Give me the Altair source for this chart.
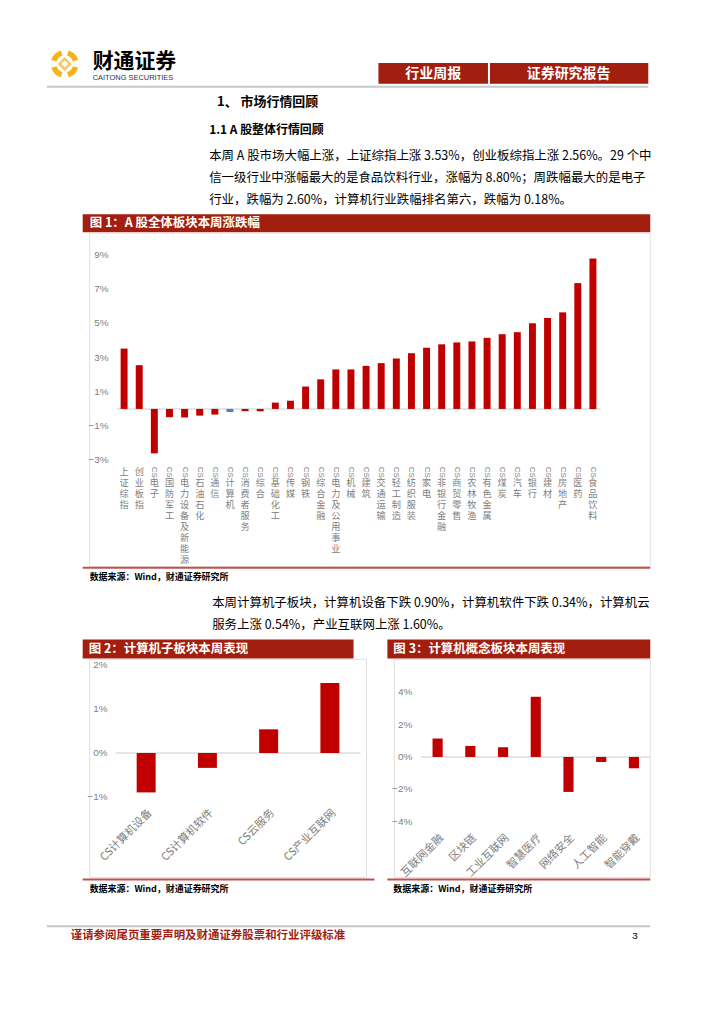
import altair as alt
import pandas as pd
import math

# ---------------- data ----------------
fig1_names = ["上证综指", "创业板指", "CS电子", "CS国防军工", "CS电力设备及新能源", "CS石油石化",
              "CS通信", "CS计算机", "CS消费者服务", "CS综合", "CS基础化工", "CS传媒", "CS钢铁",
              "CS综合金融", "CS电力及公用事业", "CS机械", "CS建筑", "CS交通运输", "CS轻工制造",
              "CS纺织服装", "CS家电", "CS非银行金融", "CS商贸零售", "CS农林牧渔", "CS有色金属",
              "CS煤炭", "CS汽车", "CS银行", "CS建材", "CS房地产", "CS医药", "CS食品饮料"]
fig1_values = [3.53, 2.56, -2.60, -0.48, -0.50, -0.39, -0.33, -0.18, -0.13, -0.14, 0.37, 0.48, 1.31,
               1.73, 2.31, 2.31, 2.52, 2.68, 2.95, 3.26, 3.58, 3.78, 3.89, 3.95, 4.16, 4.37, 4.49,
               5.01, 5.32, 5.65, 7.36, 8.80]
fig1_ticks = [-3, -1, 1, 3, 5, 7, 9]

fig2_names = ["CS计算机设备", "CS计算机软件", "CS云服务", "CS产业互联网"]
fig2_values = [-0.90, -0.34, 0.54, 1.60]
fig2_ticks = [-1, 0, 1, 2]

fig3_names = ["互联网金融", "区块链", "工业互联网", "智慧医疗", "网络安全", "人工智能", "智能穿戴"]
fig3_values = [1.14, 0.68, 0.60, 3.72, -2.16, -0.31, -0.70]
fig3_ticks = [-4, -2, 0, 2, 4]

zero_line = [0]

# ---------------- texts ----------------
logo_cn = "财通证券"
logo_en = "CAITONG SECURITIES"
tag1 = "行业周报"
tag2 = "证券研究报告"
h1 = "1、 市场行情回顾"
h2 = "1.1  A 股整体行情回顾"
para1 = ["本周 A 股市场大幅上涨，上证综指上涨 3.53%，创业板综指上涨 2.56%。29 个中",
         "信一级行业中涨幅最大的是食品饮料行业，涨幅为 8.80%；周跌幅最大的是电子",
         "行业，跌幅为 2.60%，计算机行业跌幅排名第六，跌幅为 0.18%。"]
para2 = ["本周计算机子板块，计算机设备下跌 0.90%，计算机软件下跌 0.34%，计算机云",
         "服务上涨 0.54%，产业互联网上涨 1.60%。"]
fig1_title = "图 1：A 股全体板块本周涨跌幅"
fig2_title = "图 2：计算机子板块本周表现"
fig3_title = "图 3：计算机概念板块本周表现"
source = "数据来源：Wind，财通证券研究所"
footer = "谨请参阅尾页重要声明及财通证券股票和行业评级标准"
page_no = "3"

# ---------------- style ----------------
CJK = "Noto Sans CJK SC"
NUM = "Liberation Sans"
BAR_RED = "#C00000"
BAR_BLUE = "#4F81BD"
HEAD_RED = "#A21F0F"
LINE_RED = "#C0504D"
GRAY = "#808080"
ORANGE = "#F5B21B"
OX, OY = 8, 8

one = pd.DataFrame({"k": [0]})


def T(s, x, y, size=12, color="#000000", weight="normal", align="left", font=CJK):
    return alt.Chart(pd.DataFrame({"t": [s]})).mark_text(
        fontSize=size, color=color, fontWeight=weight, align=align, baseline="middle", font=font
    ).encode(x=alt.value(x - OX), y=alt.value(y - OY), text="t:N")


def RECT(x1, y1, x2, y2, fill):
    return alt.Chart(one).mark_rect(color=fill).encode(
        x=alt.value(x1 - OX), x2=alt.value(x2 - OX), y=alt.value(y1 - OY), y2=alt.value(y2 - OY))


def FRAME(x1, y1, x2, y2, stroke):
    return alt.Chart(one).mark_rect(fillOpacity=0, stroke=stroke, strokeWidth=1).encode(
        x=alt.value(x1 - OX), x2=alt.value(x2 - OX), y=alt.value(y1 - OY), y2=alt.value(y2 - OY))


def LINE(x1, y1, x2, y2, color, w):
    return alt.Chart(one).mark_rule(color=color, strokeWidth=w).encode(
        x=alt.value(x1 - OX), x2=alt.value(x2 - OX), y=alt.value(y1 - OY), y2=alt.value(y2 - OY))


def ARC(cx, cy, r1, r2, t1, t2, color):
    return alt.Chart(one).mark_arc(color=color).encode(
        x=alt.value(cx - OX), y=alt.value(cy - OY), radius=alt.value(r1), radius2=alt.value(r2),
        theta=alt.value(t1), theta2=alt.value(t2))


def spacer(w, h):
    pt = alt.Chart(one).mark_point(opacity=0).encode(x=alt.value(0), y=alt.value(0))
    return alt.layer(pt).properties(width=w, height=h)


# ---------------- decoration panel (page coordinates) ----------------
layers = []
# logo
for k in range(4):
    a = k * math.pi / 2
    layers.append(ARC(62, 62, 14, 8.5, a + 0.28, a + math.pi / 2 - 0.28, ORANGE))
layers.append(alt.Chart(one).mark_point(shape="diamond", filled=False, color=ORANGE, strokeWidth=2.5,
                                        size=110).encode(x=alt.value(62 - OX), y=alt.value(62 - OY)))
layers.append(T(logo_cn, 90, 60, size=21, weight="bold"))
layers.append(T(logo_en, 90, 76, size=7.5, color="#333333", font=NUM))
# header tags
layers.append(RECT(377, 61, 487, 82, HEAD_RED))
layers.append(RECT(489, 61, 648, 82, HEAD_RED))
layers.append(T(tag1, 432, 72, size=14, color="white", weight="bold", align="center"))
layers.append(T(tag2, 568, 72, size=14, color="white", weight="bold", align="center"))
layers.append(LINE(44, 85, 648, 85, "#c8c8c8", 2))
# headings & paragraph 1
layers.append(T(h1, 215, 100, size=13, weight="bold"))
layers.append(T(h2, 207, 128, size=12, weight="bold"))
for i, s in enumerate(para1):
    layers.append(T(s, 207, 155 + 22 * i, size=12.5))
# figure 1 title and frame
layers.append(RECT(80, 213, 650, 231, HEAD_RED))
layers.append(T(fig1_title, 87, 222, size=12.5, color="white", weight="bold"))
layers.append(FRAME(87, 232, 650, 567, "#e6dede"))
layers.append(LINE(80, 568, 650, 568, LINE_RED, 2))
layers.append(T(source, 87, 577, size=9, weight="bold"))
# paragraph 2
for i, s in enumerate(para2):
    layers.append(T(s, 210, 603 + 22 * i, size=12.5))
# figure 2 / 3 titles and frames
layers.append(RECT(80, 640, 352, 659, HEAD_RED))
layers.append(RECT(386, 640, 650, 659, HEAD_RED))
layers.append(T(fig2_title, 86, 649.5, size=12.5, color="white", weight="bold"))
layers.append(T(fig3_title, 392, 649.5, size=12.5, color="white", weight="bold"))
layers.append(FRAME(87, 660, 365, 879, "#e6dede"))
layers.append(FRAME(393, 660, 650, 879, "#e6dede"))
layers.append(LINE(80, 881, 373, 881, LINE_RED, 2))
layers.append(LINE(386, 881, 650, 881, LINE_RED, 2))
layers.append(T(source, 87, 891, size=9, weight="bold"))
layers.append(T(source, 392, 891, size=9, weight="bold"))
# footer
layers.append(LINE(44, 928, 650, 928, "#c8c8c8", 2))
layers.append(T(footer, 68, 938, size=11.5, color=HEAD_RED, weight="bold"))
layers.append(T(page_no, 632, 938, size=10, font=NUM))

decor = alt.layer(*layers).properties(width=708, height=246)


def ylabels(ticks, yscale, dx):
    """y tick labels drawn through the chart's own y scale"""
    return alt.Chart(pd.DataFrame({"v": ticks})).transform_calculate(
        lab="format(datum.v, 'd') + '%'"
    ).mark_text(align="right", baseline="middle", fontSize=10, font=NUM, color=GRAY).encode(
        y=alt.Y("v:Q", scale=yscale, axis=None, title=None), x=alt.value(-dx), text="lab:N")


def zero_rule(yscale):
    return alt.Chart(pd.DataFrame({"v": zero_line})).mark_rule(
        color="#dcdcdc", strokeWidth=1.5).encode(y=alt.Y("v:Q", scale=yscale, axis=None, title=None))


# ---------------- figure 1 ----------------
df1 = pd.DataFrame({"name": fig1_names, "v": fig1_values})

# vertical category labels: one row per character slot ("CS" prefix shown turned sideways)
rows = []
for n in fig1_names:
    if n.startswith("CS"):
        rows.append({"name": n, "slot": 0, "ch": "CS", "kind": "cs"})
        body, start = n[2:], 1
    else:
        body, start = n, 0
    for i, c in enumerate(body):
        rows.append({"name": n, "slot": start + i, "ch": c, "kind": "char"})
lab1 = pd.DataFrame(rows)

ys1 = alt.Scale(domain=[-3, 9], nice=False)
x1 = alt.X("name:N", sort=fig1_names, axis=None,
           scale=alt.Scale(paddingInner=0.54, paddingOuter=0.27))
y1 = alt.Y("v:Q", title=None, scale=ys1, axis=None)
slot_y = alt.Y("slot:Q", axis=None, title=None, scale=alt.Scale(domain=[0, 8], range=[218, 306]))

bars1 = alt.Chart(df1).mark_bar().encode(
    x=x1, y=y1,
    color=alt.condition("datum.name == 'CS计算机'", alt.value(BAR_BLUE), alt.value(BAR_RED)))
chars1 = alt.Chart(lab1).transform_filter("datum.kind == 'char'").mark_text(
    baseline="middle", align="center", fontSize=9.2, color=GRAY, font=CJK
).encode(x=x1, y=slot_y, text="ch:N")
cs1 = alt.Chart(lab1).transform_filter("datum.kind == 'cs'").mark_text(
    baseline="middle", align="center", fontSize=8, angle=90, color=GRAY, font=NUM
).encode(x=x1, y=slot_y, text="ch:N")

plot1 = alt.layer(zero_rule(ys1), bars1, ylabels(fig1_ticks, ys1, 8))
labels1 = alt.layer(chars1, cs1)
fig1 = alt.layer(plot1, labels1).resolve_scale(y="independent").properties(width=486, height=206)

# ---------------- figure 2 ----------------
df2 = pd.DataFrame({"name": fig2_names, "v": fig2_values})
ys2 = alt.Scale(domain=[-1, 2], nice=False)
x2 = alt.X("name:N", sort=fig2_names, title=None,
           scale=alt.Scale(paddingInner=0.69, paddingOuter=0.345),
           axis=alt.Axis(labelAngle=-45, labelColor=GRAY, labelFont=CJK, labelFontSize=11,
                         domain=False, ticks=False, labelPadding=10))
y2 = alt.Y("v:Q", title=None, scale=ys2, axis=None)
bars2 = alt.Chart(df2).mark_bar(color=BAR_RED).encode(x=x2, y=y2)
fig2 = alt.layer(zero_rule(ys2), bars2, ylabels(fig2_ticks, ys2, 8)).properties(width=246, height=132)

# ---------------- figure 3 ----------------
df3 = pd.DataFrame({"name": fig3_names, "v": fig3_values})
ys3 = alt.Scale(domain=[-4, 4], nice=False)
x3 = alt.X("name:N", sort=fig3_names, title=None,
           scale=alt.Scale(paddingInner=0.69, paddingOuter=0.345),
           axis=alt.Axis(labelAngle=-45, labelColor=GRAY, labelFont=CJK, labelFontSize=11,
                         domain=False, ticks=False, labelPadding=10))
y3 = alt.Y("v:Q", title=None, scale=ys3, axis=None)
bars3 = alt.Chart(df3).mark_bar(color=BAR_RED).encode(x=x3, y=y3)
fig3 = alt.layer(zero_rule(ys3), bars3, ylabels(fig3_ticks, ys3, 9)).properties(width=230, height=130)

# ---------------- page layout ----------------
# nested concat rows take no height in a flush layout, so explicit spacers set the vertical offsets
row2 = alt.hconcat(spacer(106, 206), fig1, spacing=0, bounds="flush")
fig3col = alt.vconcat(spacer(230, 27), fig3, spacing=0, bounds="flush")
row4 = alt.hconcat(spacer(105, 132), fig2, spacer(61, 132), fig3col, spacing=0, bounds="flush")

chart = alt.vconcat(decor, row2, spacer(708, 412), row4, spacer(708, 350),
                    spacing=0, bounds="flush").properties(
    padding=0, background="white").configure_view(strokeWidth=0)

chart.save("out.html", embed_options={"renderer": "svg", "actions": False})
